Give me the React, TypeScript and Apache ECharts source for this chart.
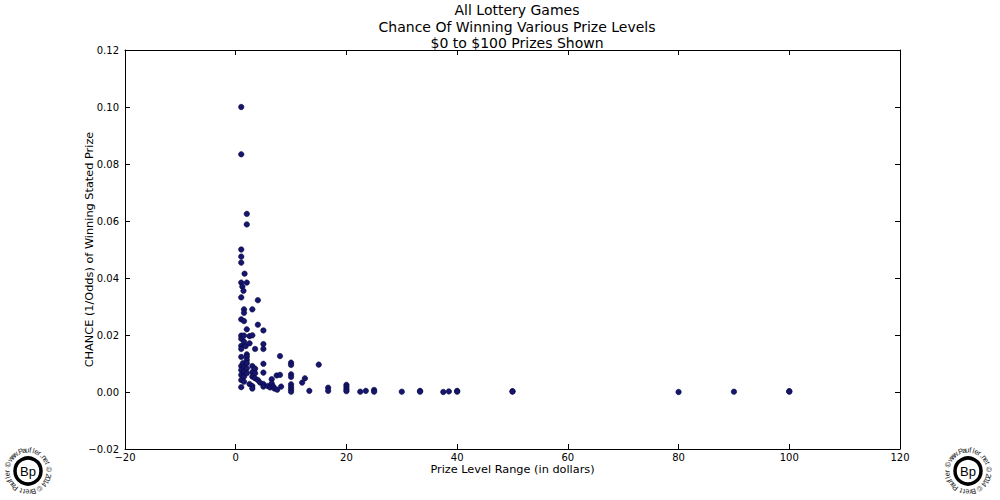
import React, { useEffect, useRef } from "react";
import * as echarts from "echarts";

const titleLines = ["All Lottery Games", "Chance Of Winning Various Prize Levels", "$0 to $100 Prizes Shown"];
const xAxisName = "Prize Level Range (in dollars)";
const yAxisName = "CHANCE (1/Odds) of Winning Stated Prize";
const logoText = "www.Paufler.net \u00a9 2014 \u00a9 Brett Paufler \u00a9 ";

// prize level (dollars)
const prizeX = [
  1, 1, 1, 1, 1, 1, 1, 1, 1, 1, 1, 1, 1, 1, 1, 1, 1, 1,
  1.2, 1.4, 1.5, 1.5, 1.5, 1.5, 1.5, 1.3, 1.5, 1.5, 1.5, 1.5, 1.6,
  2, 2, 2, 2, 1.8, 2, 2, 2, 2, 2, 2,
  2.5, 2.5, 2.5,
  3, 3, 3, 3, 3, 3, 3,
  3.5, 3.5, 3.5, 3.5,
  4, 4, 4, 4.4,
  5, 5, 5, 5, 5, 5, 5,
  5.8, 6.2, 6.5, 6.5, 6.8, 7.4, 8, 8, 8.2, 7, 7.5,
  10, 10, 10, 10, 10, 10, 10, 10,
  12, 12.5, 13.3, 15, 16.7, 16.7,
  20, 20, 20, 20,
  22.5, 23.5, 25, 25, 30, 33.3, 33.3, 37.5, 38.5, 40, 40, 50, 50, 80, 90, 100, 100,
];

// chance of winning (1/odds)
const chance = [
  0.1, 0.0834, 0.05, 0.0475, 0.0454, 0.0384, 0.0332, 0.0255, 0.0198, 0.0187, 0.0162, 0.0151, 0.0123, 0.0091, 0.0077, 0.006, 0.0042, 0.0017,
  0.037, 0.0355, 0.029, 0.0278, 0.0249, 0.0198, 0.0177, 0.0101, 0.0087, 0.0071, 0.0054, 0.0036, 0.0415,
  0.0625, 0.0588, 0.0384, 0.022, 0.0161, 0.0132, 0.0123, 0.0112, 0.0101, 0.0083, 0.0066,
  0.0196, 0.0171, 0.0028,
  0.029, 0.0199, 0.0091, 0.007, 0.0054, 0.0021, 0.0012,
  0.0151, 0.0082, 0.0066, 0.0048,
  0.0322, 0.0236, 0.0042, 0.0033,
  0.0216, 0.0168, 0.0151, 0.0099, 0.0068, 0.0028, 0.0019,
  0.0021, 0.0016, 0.0045, 0.003, 0.0019, 0.0058, 0.0126, 0.006, 0.0019, 0.0012, 0.0008,
  0.0103, 0.0095, 0.0062, 0.0053, 0.0027, 0.0018, 0.0009, 0.0001,
  0.0033, 0.0048, 0.0004, 0.0096, 0.0015, 0.0004,
  0.0025, 0.0018, 0.001, 0.0003,
  0.0001, 0.0004, 0.0007, 0.0001, 0.0001, 0.0004, 0.0001, 0.0, 0.0002, 0.0004, 0.0001, 0.0003, 0.0001, 0.0, 0.0001, 0.0003, 0.0001,
];

const FONT = "DejaVu Sans";
const minus = (s: string) => s.replace("-", "\u2212");

function logo(cx: number, cy: number): any[] {
  const els: any[] = [];
  const chars = logoText.split("");
  const n = chars.length;
  const r = 21;
  const start = (-55 * Math.PI) / 180;
  chars.forEach((ch, i) => {
    const th = start + (i * 2 * Math.PI) / n;
    els.push({
      type: "text",
      x: cx + r * Math.sin(th),
      y: cy - r * Math.cos(th),
      rotation: -th,
      style: { text: ch, fontSize: 7.5, fontFamily: "Liberation Sans", fill: "#222", align: "center", verticalAlign: "middle" },
    });
  });
  els.push({ type: "circle", shape: { cx, cy, r: 13 }, style: { fill: "#fff", stroke: "#000", lineWidth: 3.5 } });
  els.push({
    type: "text",
    x: cx,
    y: cy + 0.5,
    style: { text: "Bp", fontSize: 13, fontFamily: "Liberation Sans", fill: "#000", align: "center", verticalAlign: "middle" },
  });
  return els;
}

export default function App() {
  const ref = useRef<HTMLDivElement>(null);
  useEffect(() => {
    if (!ref.current) return;
    const chart = echarts.init(ref.current, undefined, { renderer: "svg" });
    const data = prizeX.map((x, i) => [x, chance[i]]);
    const axisCommon = {
      axisLine: { show: true, onZero: false, lineStyle: { color: "#000", width: 1 } },
      axisTick: { show: true, inside: true, length: 5, lineStyle: { color: "#000" } },
      splitLine: { show: false },
    };
    chart.setOption({
      animation: false,
      backgroundColor: "#fff",
      title: {
        text: titleLines.join("\n"),
        left: 512,
        top: -3,
        textAlign: "center",
        textStyle: { fontFamily: FONT, fontSize: 14, fontWeight: "normal", color: "#000", lineHeight: 16.5 },
      },
      grid: { left: 125, right: 100, top: 50, bottom: 51, containLabel: false },
      xAxis: [
        {
          type: "value",
          min: -20,
          max: 120,
          interval: 20,
          position: "bottom",
          name: xAxisName,
          nameLocation: "middle",
          nameGap: 15,
          nameMoveOverlap: false,
          nameTextStyle: { fontFamily: FONT, fontSize: 11.3, color: "#000" },
          axisLabel: { fontFamily: FONT, fontSize: 10, color: "#000", margin: 3, formatter: (v: number) => minus(String(v)) },
          ...axisCommon,
        },
        {
          type: "value",
          min: -20,
          max: 120,
          interval: 20,
          position: "top",
          axisLabel: { show: false },
          ...axisCommon,
        },
      ],
      yAxis: [
        {
          type: "value",
          min: -0.02,
          max: 0.12,
          interval: 0.02,
          position: "left",
          name: yAxisName,
          nameLocation: "middle",
          nameGap: 30,
          nameMoveOverlap: false,
          nameTextStyle: { fontFamily: FONT, fontSize: 11.3, color: "#000" },
          axisLabel: { fontFamily: FONT, fontSize: 10, color: "#000", margin: 6, formatter: (v: number) => minus(v.toFixed(2)) },
          ...axisCommon,
        },
        {
          type: "value",
          min: -0.02,
          max: 0.12,
          interval: 0.02,
          position: "right",
          axisLabel: { show: false },
          ...axisCommon,
        },
      ],
      series: [
        {
          type: "scatter",
          data,
          symbol: "circle",
          symbolSize: 5.5,
          itemStyle: { color: "#16166e", borderColor: "#000033", borderWidth: 0.5, opacity: 1 },
          xAxisIndex: 0,
          yAxisIndex: 0,
        },
      ],
      graphic: [...logo(28, 471), ...logo(968, 471)],
    });
    return () => chart.dispose();
  }, []);
  return <div ref={ref} style={{ position: "fixed", left: 0, top: 0, width: 1000, height: 500 }} />;
}
